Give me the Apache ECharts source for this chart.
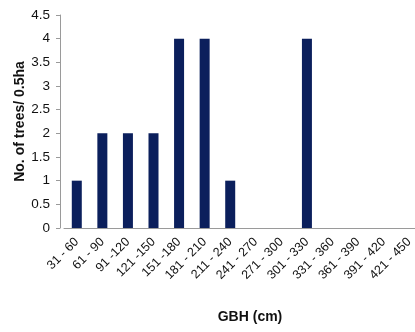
<!DOCTYPE html>
<html>
<head>
<meta charset="utf-8">
<script src="https://cdn.jsdelivr.net/npm/echarts@6/dist/echarts.min.js"></script>
<style>html,body{margin:0;padding:0;background:#fff;overflow:hidden;}#c{width:422px;height:332px;}</style>
</head>
<body>
<div id="c"></div>
<script>
const categories = ['31 - 60','61 - 90','91 -120','121 -150','151 -180','181 - 210','211 - 240','241 - 270','271 - 300','301 - 330','331 - 360','361 - 390','391 - 420','421 - 450'];
const trees = [1, 2, 2, 2, 4, 4, 1, 0, 0, 4, 0, 0, 0, 0];
const yTicks = [0, 0.5, 1, 1.5, 2, 2.5, 3, 3.5, 4, 4.5];

const chart = echarts.init(document.getElementById('c'), null, {renderer: 'canvas'});
const font = 'Liberation Sans, Arial, sans-serif';
chart.setOption({
  animation: false,
  grid: {left: 64, right: 0, top: 15, bottom: 104},
  xAxis: {
    type: 'category',
    data: categories,
    boundaryGap: true,
    axisLine: {lineStyle: {color: '#9a9a9a', width: 1}},
    axisTick: {alignWithLabel: true, length: 4, lineStyle: {color: '#9a9a9a'}},
    axisLabel: {rotate: 45, fontSize: 12.5, color: '#111', fontFamily: font, margin: 12, interval: 0},
    name: 'GBH (cm)',
    nameLocation: 'middle',
    nameGap: 82,
    nameMoveOverlap: false,
    nameTextStyle: {fontWeight: 'bold', fontSize: 14, color: '#111', fontFamily: font, padding: [0, 0, 0, 14]}
  },
  yAxis: {
    type: 'value',
    min: yTicks[0],
    max: yTicks[yTicks.length - 1],
    interval: 0.5,
    offset: 4,
    splitLine: {show: false},
    axisLine: {show: true, lineStyle: {color: '#9a9a9a'}},
    axisTick: {show: true, length: 4, lineStyle: {color: '#9a9a9a'}},
    axisLabel: {fontSize: 13.5, color: '#111', fontFamily: font, margin: 10},
    name: 'No. of trees/ 0.5ha',
    nameLocation: 'middle',
    nameGap: 33,
    nameMoveOverlap: false,
    nameTextStyle: {fontWeight: 'bold', fontSize: 14, color: '#111', fontFamily: font}
  },
  series: [{
    type: 'bar',
    data: trees,
    barWidth: 10,
    itemStyle: {color: '#0b1f5c'}
  }]
});
</script>
</body>
</html>
